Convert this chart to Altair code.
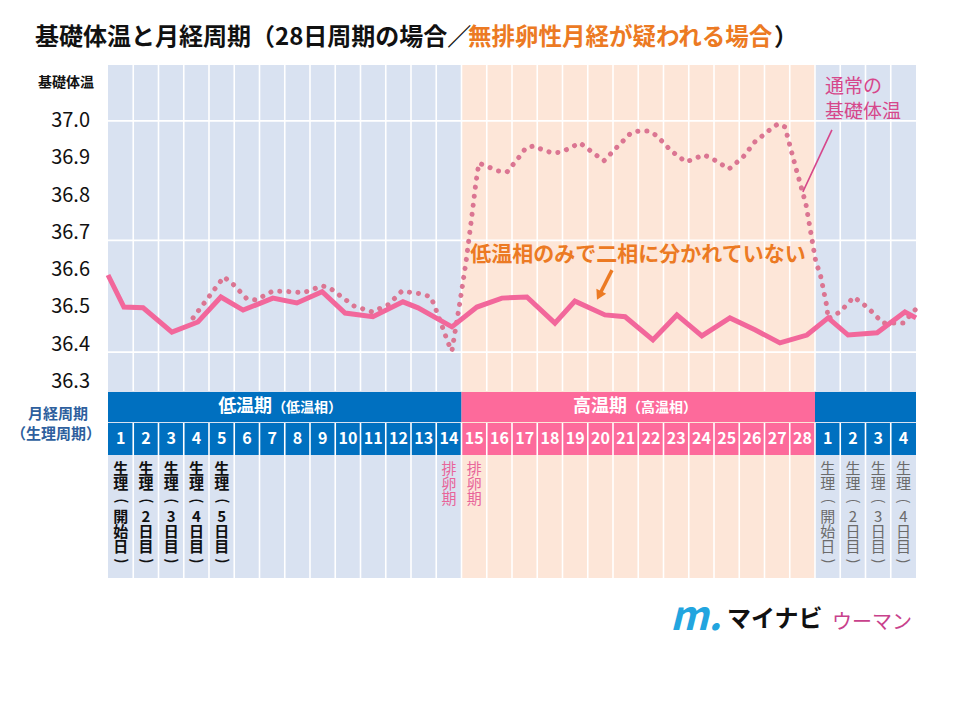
import altair as alt
import pandas as pd

FONT = "Noto Sans CJK JP"
W, H = 808, 326            # temperature part of the plot (px)
BOTTOM = 513               # bottom of the cycle table (px, view coords)

# ---------------- data ----------------
col_index = [1, 2, 3, 4, 5, 6, 7, 8, 9, 10, 11, 12, 13, 14, 15, 16,
             17, 18, 19, 20, 21, 22, 23, 24, 25, 26, 27, 28, 29, 30, 31, 32]
cycle_day = ["1", "2", "3", "4", "5", "6", "7", "8", "9", "10", "11", "12", "13", "14",
             "15", "16", "17", "18", "19", "20", "21", "22", "23", "24", "25", "26", "27", "28",
             "1", "2", "3", "4"]

seg_phase = ["low", "high", "next"]
seg_start = [0.5, 14.5, 28.5]
seg_end = [14.5, 28.5, 32.5]

boundaries = [1.5, 2.5, 3.5, 4.5, 5.5, 6.5, 7.5, 8.5, 9.5, 10.5, 11.5, 12.5, 13.5, 14.5,
              15.5, 16.5, 17.5, 18.5, 19.5, 20.5, 21.5, 22.5, 23.5, 24.5, 25.5, 26.5,
              27.5, 28.5, 29.5, 30.5, 31.5]

# anovulatory cycle (solid line)
solid_day = [0.5, 1.13, 1.89, 3.03, 4.06, 4.97, 5.85, 7.03, 7.98, 8.98, 9.89, 10.99,
             12.18, 12.78, 14.12, 15.11, 16.1, 17.09, 18.2, 18.99, 20.18, 20.98, 22.08,
             23.03, 24.02, 25.13, 26.12, 27.11, 28.18, 29.02, 29.81, 30.96, 32.06, 32.5]
solid_temp = [36.587, 36.501, 36.499, 36.434, 36.461, 36.528, 36.493, 36.525, 36.512,
              36.542, 36.485, 36.475, 36.515, 36.499, 36.448, 36.501, 36.525, 36.528,
              36.458, 36.517, 36.480, 36.475, 36.413, 36.480, 36.424, 36.472, 36.440,
              36.405, 36.426, 36.472, 36.426, 36.432, 36.488, 36.472]

# normal biphasic temperature (dotted line)
dotted_day = [3.87, 5.09, 5.49, 6.00, 6.36, 7.03, 7.83, 8.22, 8.98, 9.29, 10.24, 10.96,
              11.59, 12.14, 12.94, 13.29, 13.57, 13.97, 14.12, 14.44, 14.68, 14.88, 15.07,
              15.19, 15.55, 15.95, 16.30, 16.78, 17.05, 17.37, 17.73, 18.12, 18.48, 19.19,
              19.51, 20.14, 20.66, 21.21, 21.53, 21.93, 22.24, 22.80, 23.39, 24.10, 24.46,
              25.09, 25.65, 26.12, 26.76, 27.03, 27.31, 27.51, 27.71, 28.14, 28.54, 28.70,
              28.98, 29.01, 29.49, 30.04, 30.60, 31.19, 31.99, 32.5]
dotted_temp = [36.472, 36.582, 36.560, 36.523, 36.520, 36.544, 36.542, 36.539, 36.558,
               36.552, 36.504, 36.488, 36.507, 36.544, 36.536, 36.528, 36.480, 36.405,
               36.383, 36.515, 36.622, 36.729, 36.834, 36.887, 36.877, 36.866, 36.863,
               36.903, 36.928, 36.933, 36.922, 36.914, 36.917, 36.941, 36.925, 36.893,
               36.930, 36.968, 36.973, 36.973, 36.960, 36.920, 36.890, 36.909, 36.898,
               36.871, 36.903, 36.944, 36.979, 36.992, 36.984, 36.933, 36.882, 36.777,
               36.619, 36.592, 36.499, 36.469, 36.488, 36.528, 36.499, 36.458, 36.458,
               36.496]

tick_values = [37.0, 36.9, 36.8, 36.7, 36.6, 36.5, 36.4, 36.3]
tick_labels = ["37.0", "36.9", "36.8", "36.7", "36.6", "36.5", "36.4", "36.3"]
grid_values = [37.0, 36.68, 36.38]

# vertical notes under the day numbers ("（" / "）" are drawn rotated)
note_col = [1, 2, 3, 4, 5, 14, 15, 29, 30, 31, 32]
note_text = ["生理（開始日）", "生理（2日目）", "生理（3日目）", "生理（4日目）", "生理（5日目）",
             "排卵期", "排卵期",
             "生理（開始日）", "生理（2日目）", "生理（3日目）", "生理（4日目）"]
note_kind = ["period", "period", "period", "period", "period",
             "ovulation", "ovulation", "next", "next", "next", "next"]

# ---------------- helpers ----------------
xs = alt.Scale(domain=[0.5, 32.5], nice=False, zero=False)
ys = alt.Scale(domain=[36.276, 37.150], nice=False, zero=False)


def X(f):
    return alt.X(f, type="quantitative", scale=xs, axis=None)


def Y(f):
    return alt.Y(f, type="quantitative", scale=ys, axis=None)


phase_order = ["low", "high", "next"]

seg = pd.DataFrame({"phase": seg_phase, "x0": seg_start, "x1": seg_end})
cols = pd.DataFrame({"col": col_index, "day": cycle_day})
bnd = pd.DataFrame({"b": boundaries})
solid = pd.DataFrame({"d": solid_day, "t": solid_temp})
dotted = pd.DataFrame({"d": dotted_day, "t": dotted_temp})
ticks = pd.DataFrame({"v": tick_values, "label": tick_labels})
grid = pd.DataFrame({"g": grid_values})
notes = pd.DataFrame({"col": note_col, "text": note_text, "kind": note_kind})
notes["head"] = notes["text"].apply(lambda s: "\n".join(s.split("（")[0]))
notes["body"] = notes["text"].apply(
    lambda s: "\n".join(s.split("（")[1].rstrip("）")) if "（" in s else "")

one = pd.DataFrame({"k": [0]})

NOTE_TOP = 397
LH = 15

# backgrounds
bg = alt.Chart(seg).mark_rect().encode(
    x=X("x0"), x2="x1", y=alt.value(0), y2=alt.value(BOTTOM),
    color=alt.Color("phase:N", legend=None,
                    scale=alt.Scale(domain=phase_order,
                                    range=["#d9e2f1", "#fde6d8", "#d9e2f1"])))

band1 = alt.Chart(seg).mark_rect().encode(
    x=X("x0"), x2="x1", y=alt.value(327), y2=alt.value(357),
    fill=alt.Fill("phase:N", legend=None,
                  scale=alt.Scale(domain=phase_order,
                                  range=["#0070c0", "#fd6a9b", "#0070c0"])))
band2 = alt.Chart(seg).mark_rect().encode(
    x=X("x0"), x2="x1", y=alt.value(358), y2=alt.value(390),
    fill=alt.Fill("phase:N", legend=None,
                  scale=alt.Scale(domain=phase_order,
                                  range=["#0070c0", "#fd6a9b", "#0070c0"])))

hgrid = alt.Chart(grid).mark_rule(color="white", strokeWidth=1.8).encode(
    y=Y("g"), x=alt.value(0), x2=alt.value(W))

vgrid_top = alt.Chart(bnd).mark_rule(color="white", strokeWidth=1.6).encode(
    x=X("b"), y=alt.value(0), y2=alt.value(H))
vgrid_bot = alt.Chart(bnd).mark_rule(color="white", strokeWidth=1.6).encode(
    x=X("b"), y=alt.value(358), y2=alt.value(BOTTOM))

dotted_line = alt.Chart(dotted).mark_line(
    color="#db7592", strokeWidth=5, strokeDash=[0.1, 9], strokeCap="round"
).encode(x=X("d"), y=Y("t"))

solid_line = alt.Chart(solid).mark_line(
    color="#f2679b", strokeWidth=5, strokeJoin="miter"
).encode(x=X("d"), y=Y("t"))

num_text = alt.Chart(cols).mark_text(
    font=FONT, fontSize=16, fontWeight="bold", color="white", baseline="middle"
).encode(x=X("col"), y=alt.value(374), text="day:N")

band_labels = pd.DataFrame({
    "x": [7.0, 7.0, 21.05, 21.05],
    "text": ["低温期", "（低温相）", "高温期", "（高温相）"],
    "part": ["main", "sub", "main", "sub"],
})
band_main = alt.Chart(band_labels[band_labels.part == "main"]).mark_text(
    font=FONT, fontSize=18, fontWeight="bold", color="white", align="right", baseline="middle"
).encode(x=X("x"), y=alt.value(342), text="text:N")
band_sub = alt.Chart(band_labels[band_labels.part == "sub"]).mark_text(
    font=FONT, fontSize=14, fontWeight="bold", color="white", align="left", baseline="middle", dy=1
).encode(x=X("x"), y=alt.value(342), text="text:N")


def note_layers(kind, color, weight):
    d = notes[notes.kind == kind]
    base = dict(font=FONT, fontSize=15, fontWeight=weight, color=color, baseline="top",
                lineBreak="\n", lineHeight=LH)
    layers = [alt.Chart(d).mark_text(**base).encode(
        x=X("col"), y=alt.value(NOTE_TOP), text="head:N")]
    if kind != "ovulation":
        layers.append(alt.Chart(d).mark_text(**base).encode(
            x=X("col"), y=alt.value(NOTE_TOP + 3 * LH + 3), text="body:N"))
        for ch, yy in (("(", NOTE_TOP + 2 * LH + 9), (")", NOTE_TOP + 6 * LH + 9)):
            layers.append(alt.Chart(d).mark_text(
                font=FONT, fontSize=14, fontWeight=weight, color=color, angle=90,
                align="center", baseline="middle"
            ).encode(x=X("col"), y=alt.value(yy), text=alt.value(ch)))
    return layers


notes_layers = (note_layers("period", "#111111", "bold")
                + note_layers("ovulation", "#e8649a", "normal")
                + note_layers("next", "#6b6b6b", "normal"))

tick_text = alt.Chart(ticks).mark_text(
    font=FONT, fontSize=20, color="#111111", align="right", baseline="middle"
).encode(y=Y("v"), x=alt.value(-18), text="label:N")


def label(text, x, y, **kw):
    return alt.Chart(one).mark_text(font=FONT, **kw).encode(
        x=alt.value(x), y=alt.value(y), text=alt.value(text))


axis_title = label("基礎体温", -42, 18, fontSize=14, fontWeight="bold", color="#111111")
cyc1 = label("月経周期", -50, 349, fontSize=15, fontWeight="bold", color="#2e5f9e")
cyc2 = label("（生理周期）", -52, 369, fontSize=15, fontWeight="bold", color="#2e5f9e")

title1 = label("基礎体温と月経周期（28日周期の場合／", -73, -27, fontSize=24, fontWeight="bold",
               color="#111111", align="left", baseline="middle")
title2 = label("無排卵性月経が疑われる場合", 360, -27, fontSize=23.5, fontWeight="bold",
               color="#ec7a23", align="left", baseline="middle")
title3 = label("）", 666, -27, fontSize=24, fontWeight="bold",
               color="#111111", align="left", baseline="middle")

# annotations (in data coordinates)
ann = pd.DataFrame({"x": [21.49], "t": [36.641], "text": ["低温相のみで二相に分かれていない"]})
ann_text = alt.Chart(ann).mark_text(
    font=FONT, fontSize=21, fontWeight="bold", color="#ec7a23", baseline="middle"
).encode(x=X("x"), y=Y("t"), text="text:N")

arrow = pd.DataFrame({"x": [20.46], "t": [36.600], "x2": [19.95], "t2": [36.532]})
arrow_line = alt.Chart(arrow).mark_rule(color="#ec7a23", strokeWidth=3.5).encode(
    x=X("x"), y=Y("t"), x2="x2", y2="t2")
arrow_head = alt.Chart(arrow).mark_point(
    shape="triangle-up", filled=True, size=120, angle=207, color="#ec7a23", opacity=1
).encode(x=X("x2"), y=Y("t2"))

normal = pd.DataFrame({"x": [28.9, 28.9], "t": [37.091, 37.024], "text": ["通常の", "基礎体温"]})
normal_text = alt.Chart(normal).mark_text(
    font=FONT, fontSize=19, color="#d6478b", align="left", baseline="middle"
).encode(x=X("x"), y=Y("t"), text="text:N")
leader = pd.DataFrame({"x": [29.17], "t": [36.976], "x2": [28.02], "t2": [36.810]})
leader_line = alt.Chart(leader).mark_rule(color="#d6478b", strokeWidth=1.6).encode(
    x=X("x"), y=Y("t"), x2="x2", y2="t2")

# logo
logo_icon = label("m.", 562, 553, fontSize=40, fontWeight="bold", fontStyle="italic",
                  color="#22a5df", align="left", baseline="middle")
logo1 = label("マイナビ", 619, 555, fontSize=24, fontWeight="bold", color="#111111",
              align="left", baseline="middle")
logo2 = label("ウーマン", 724, 558, fontSize=20, color="#c8418c",
              align="left", baseline="middle")

chart = alt.layer(
    bg, hgrid, band1, band2, vgrid_top, vgrid_bot,
    dotted_line, solid_line,
    num_text, band_main, band_sub, *notes_layers,
    tick_text, axis_title, cyc1, cyc2, title1, title2, title3,
    ann_text, arrow_line, arrow_head, normal_text, leader_line,
    logo_icon, logo1, logo2,
).resolve_scale(color="independent", fill="independent").properties(
    width=W, height=H,
    autosize=alt.AutoSizeParams(type="none"),
    padding={"left": 100, "top": 57, "right": 36, "bottom": 321},
    background="white",
).configure_view(stroke=None)

chart.save("out.html", embed_options={"renderer": "svg", "actions": False})
